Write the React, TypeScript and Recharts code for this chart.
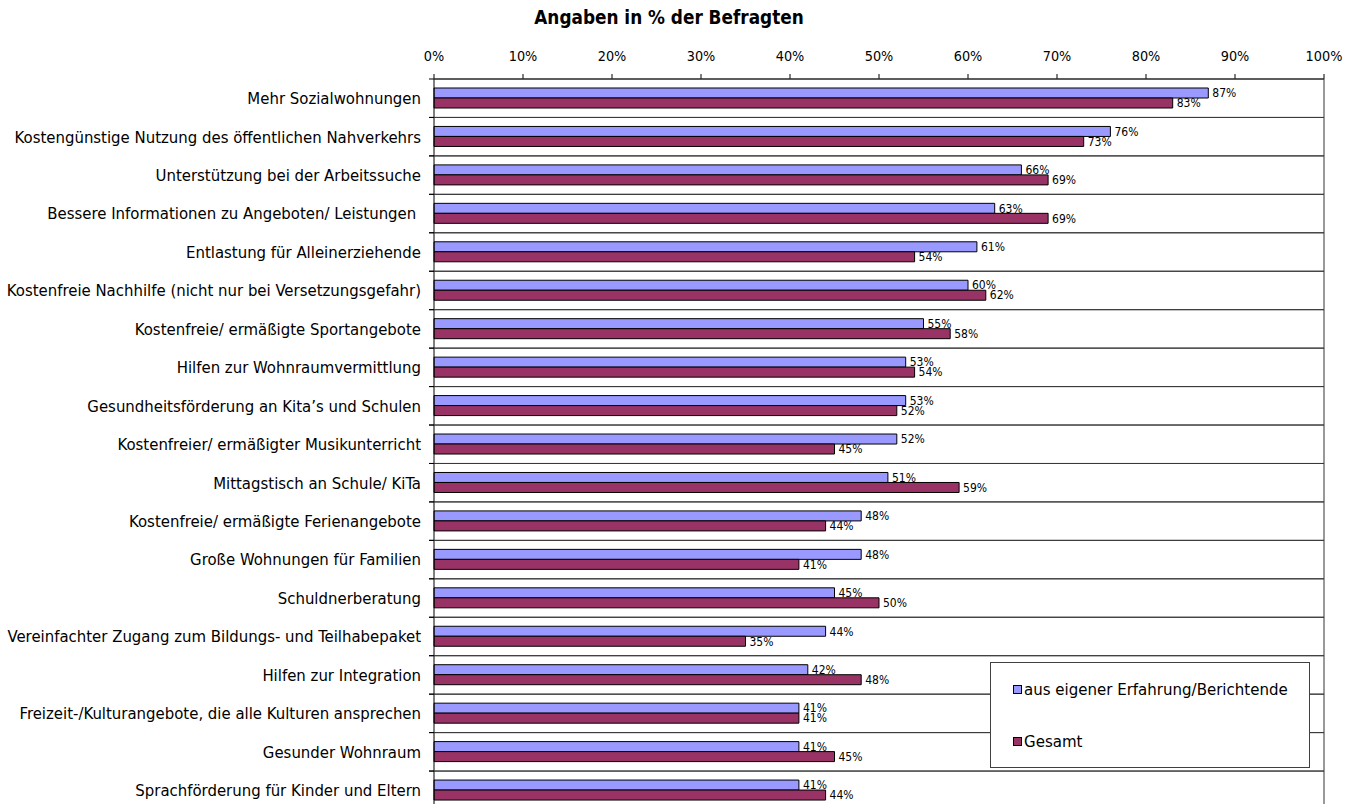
import React from 'react';
import { BarChart, Bar, XAxis, YAxis, LabelList, Legend, ReferenceLine } from 'recharts';

const categories = [
  'Mehr Sozialwohnungen',
  'Kostengünstige Nutzung des öffentlichen Nahverkehrs',
  'Unterstützung bei der Arbeitssuche',
  'Bessere Informationen zu Angeboten/ Leistungen ',
  'Entlastung für Alleinerziehende',
  'Kostenfreie Nachhilfe (nicht nur bei Versetzungsgefahr)',
  'Kostenfreie/ ermäßigte Sportangebote',
  'Hilfen zur Wohnraumvermittlung',
  'Gesundheitsförderung an Kita’s und Schulen',
  'Kostenfreier/ ermäßigter Musikunterricht',
  'Mittagstisch an Schule/ KiTa',
  'Kostenfreie/ ermäßigte Ferienangebote',
  'Große Wohnungen für Familien',
  'Schuldnerberatung',
  'Vereinfachter Zugang zum Bildungs- und Teilhabepaket',
  'Hilfen zur Integration',
  'Freizeit-/Kulturangebote, die alle Kulturen ansprechen',
  'Gesunder Wohnraum',
  'Sprachförderung für Kinder und Eltern',
];

const eigeneErfahrung = [87, 76, 66, 63, 61, 60, 55, 53, 53, 52, 51, 48, 48, 45, 44, 42, 41, 41, 41];
const gesamt = [83, 73, 69, 69, 54, 62, 58, 54, 52, 45, 59, 44, 41, 50, 35, 48, 41, 45, 44];

const xTicks = [0, 10, 20, 30, 40, 50, 60, 70, 80, 90, 100];

const seriesNames = ['aus eigener Erfahrung/Berichtende', 'Gesamt'];
const seriesColors = ['#9999FF', '#993366'];

const data = categories.map((name, i) => ({
  name,
  eigen: eigeneErfahrung[i],
  gesamt: gesamt[i],
}));

const FONT = '"DejaVu Sans Condensed", "DejaVu Sans", Tahoma, sans-serif';
const CHART_W = 1360;
const CHART_H = 820;
const Y_AXIS_W = 434;
const MARGIN = { top: 49, right: 36, bottom: 10.5, left: 0 };
const PLOT_W = CHART_W - Y_AXIS_W - MARGIN.left - MARGIN.right;
const Y_TICK_MARGIN = 13;

const CategoryTick = (props: any) => {
  const { x, y, payload } = props;
  const half = typeof payload.offset === 'number' ? payload.offset : 0;
  const axisX = x + Y_TICK_MARGIN;
  const top = y - half;
  const bottom = y + half;
  return (
    <g>
      <line x1={axisX} x2={axisX + PLOT_W} y1={top} y2={top} stroke="#3a3a3a" strokeWidth={1} />
      <line x1={axisX} x2={axisX + PLOT_W} y1={bottom} y2={bottom} stroke="#3a3a3a" strokeWidth={1} />
      <line x1={axisX - 5} x2={axisX} y1={top} y2={top} stroke="#000" strokeWidth={1} />
      <line x1={axisX - 5} x2={axisX} y1={bottom} y2={bottom} stroke="#000" strokeWidth={1} />
      <text
        x={x}
        y={y}
        dy="0.355em"
        textAnchor="end"
        fill="#000"
        fontSize={16.6}
        fontFamily={FONT}
        style={{ whiteSpace: 'pre' }}
      >
        {payload.value}
      </text>
    </g>
  );
};

const LegendBox = (props: any) => {
  const payload = [...(props.payload || [])].sort(
    (a: any, b: any) => seriesNames.indexOf(a.value) - seriesNames.indexOf(b.value)
  );
  return (
    <div
      style={{
        position: 'relative',
        width: 320,
        height: 106,
        boxSizing: 'border-box',
        border: '1px solid #404040',
        background: '#fff',
        fontFamily: FONT,
        fontSize: 16.7,
        color: '#000',
      }}
    >
      {payload.map((entry: any, i: number) => (
        <div
          key={entry.value}
          style={{
            position: 'absolute',
            left: 22,
            top: 14 + i * 52,
            height: 24,
            display: 'flex',
            alignItems: 'center',
            whiteSpace: 'nowrap',
          }}
        >
          <span
            style={{
              display: 'inline-block',
              width: 7,
              height: 7,
              border: '1px solid #000',
              background: entry.color,
              marginRight: 2,
            }}
          />
          <span>{entry.value}</span>
        </div>
      ))}
    </div>
  );
};

export default function App() {
  return (
    <div style={{ position: 'relative', width: CHART_W, height: 804, overflow: 'hidden', background: '#fff' }}>
      <style>{'body{margin:0;}'}</style>
      <div
        style={{
          position: 'absolute',
          left: 669,
          top: 7,
          transform: 'translateX(-50%)',
          fontFamily: FONT,
          fontWeight: 'bold',
          fontSize: 18.8,
          whiteSpace: 'nowrap',
          color: '#000',
        }}
      >
        Angaben in % der Befragten
      </div>
      <BarChart
        width={CHART_W}
        height={CHART_H}
        data={data}
        layout="vertical"
        margin={MARGIN}
        barSize={10}
        barGap={0}
        style={{ fontFamily: FONT }}
      >
        <XAxis
          type="number"
          orientation="top"
          domain={[0, 100]}
          ticks={xTicks}
          interval={0}
          tickFormatter={(v: number) => `${v}%`}
          height={30}
          tickSize={5}
          tickMargin={13}
          axisLine={{ stroke: '#000' }}
          tickLine={{ stroke: '#000' }}
          tick={{ fill: '#000', fontSize: 14.3, fontFamily: FONT }}
        />
        <YAxis
          type="category"
          dataKey="name"
          width={Y_AXIS_W}
          interval={0}
          tickSize={0}
          tickMargin={Y_TICK_MARGIN}
          axisLine={{ stroke: '#000' }}
          tickLine={false}
          tick={<CategoryTick />}
        />
        <ReferenceLine x={100} stroke="#999" strokeWidth={2} />
        <Bar dataKey="eigen" name={seriesNames[0]} fill={seriesColors[0]} stroke="#000" strokeWidth={1} isAnimationActive={false}>
          <LabelList
            dataKey="eigen"
            position="right"
            offset={4}
            formatter={(v: any) => `${v}%`}
            style={{ fill: '#000', fontSize: 12, fontFamily: FONT }}
          />
        </Bar>
        <Bar dataKey="gesamt" name={seriesNames[1]} fill={seriesColors[1]} stroke="#000" strokeWidth={1} isAnimationActive={false}>
          <LabelList
            dataKey="gesamt"
            position="right"
            offset={4}
            formatter={(v: any) => `${v}%`}
            style={{ fill: '#000', fontSize: 12, fontFamily: FONT }}
          />
        </Bar>
        <Legend
          layout="vertical"
          align="center"
          verticalAlign="middle"
          itemSorter={null as any}
          content={<LegendBox />}
          wrapperStyle={{ position: 'absolute', left: 990, top: 662, width: 320, height: 106 }}
        />
      </BarChart>
    </div>
  );
}
